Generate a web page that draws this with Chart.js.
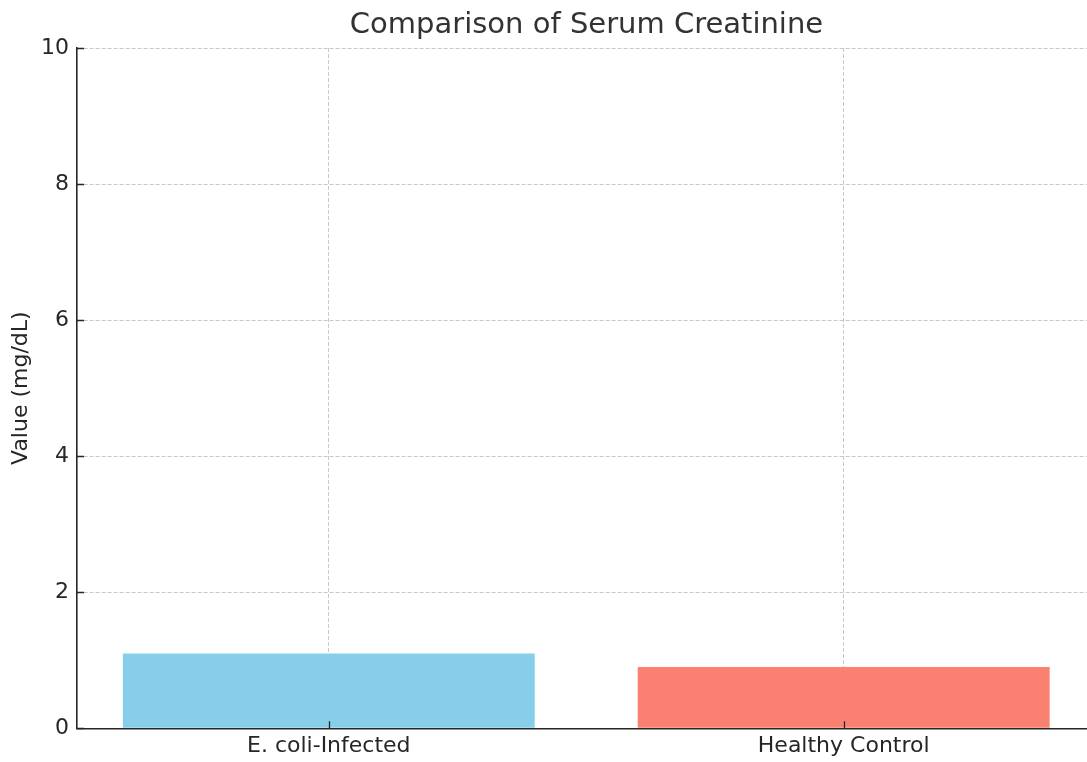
<!DOCTYPE html>
<html>
<head>
<meta charset="utf-8">
<script src="https://cdn.jsdelivr.net/npm/chart.js@4/dist/chart.umd.min.js"></script>
<style>
html,body{margin:0;padding:0;overflow:hidden;background:#fff;width:1087px;height:762px;}
canvas{display:block;}
</style>
</head>
<body>
<canvas id="c" width="1097" height="762"></canvas>
<script>
const categories = ["E. coli-Infected", "Healthy Control"];
const values = [1.1, 0.9];
const barColors = ["#87CEEB", "#FA8072"];
const yTicks = [0, 2, 4, 6, 8, 10];
const chartTitle = "Comparison of Serum Creatinine";
const yTitle = "Value (mg/dL)";

const FONT = "'DejaVu Sans', sans-serif";
const INK = "#262626";
const GRID = 'rgba(176,176,176,0.7)';

const inwardTicks = {
  id: 'inwardTicks',
  afterDraw(chart) {
    const {ctx, chartArea, scales} = chart;
    ctx.save();
    ctx.strokeStyle = INK;
    ctx.lineWidth = 1.3;
    ctx.beginPath();
    scales.y.ticks.forEach(t => {
      const y = Math.round(scales.y.getPixelForValue(t.value)) + 0.5;
      ctx.moveTo(chartArea.left, y);
      ctx.lineTo(chartArea.left + 7, y);
    });
    scales.x.ticks.forEach(t => {
      const x = Math.round(scales.x.getPixelForValue(t.value)) + 0.5;
      ctx.moveTo(x, chartArea.bottom);
      ctx.lineTo(x, chartArea.bottom - 7);
    });
    ctx.stroke();
    ctx.fillStyle = "#333333";
    ctx.font = "29px " + FONT;
    ctx.textAlign = "center";
    ctx.textBaseline = "middle";
    ctx.fillText(chartTitle, (chartArea.left + chartArea.right) / 2, 25);
    ctx.restore();
  }
};

new Chart(document.getElementById('c'), {
  type: 'bar',
  data: {
    datasets: [{
      data: categories.map((c, i) => ({x: i, y: values[i]})),
      backgroundColor: barColors,
      borderWidth: 0,
      categoryPercentage: 1.0,
      barPercentage: 0.8
    }]
  },
  options: {
    responsive: false,
    animation: false,
    layout: {padding: {top: 48, right: 1, left: 0, bottom: 0}},
    plugins: {legend: {display: false}, tooltip: {enabled: false}, title: {display: false}},
    scales: {
      x: {
        type: 'linear',
        min: -0.489,
        max: 1.49,
        offset: false,
        z: 1,
        afterBuildTicks(scale) { scale.ticks = categories.map((c, i) => ({value: i})); },
        afterFit(scale) { scale.height = 33.7; },
        ticks: {
          callback: (v) => categories[v] ?? '',
          font: {family: FONT, size: 22},
          color: INK,
          padding: 5,
          maxRotation: 0,
          autoSkip: false
        },
        grid: {color: GRID, lineWidth: 1, drawTicks: false, tickLength: 0, offset: false},
        border: {display: true, color: INK, width: 1.6, dash: [4, 2]},
      },
      y: {
        min: 0,
        max: 10,
        z: 1,
        afterBuildTicks(scale) { scale.ticks = yTicks.map(v => ({value: v})); },
        afterFit(scale) { scale.width = 77; },
        ticks: {
          font: {family: FONT, size: 22},
          color: INK,
          padding: 8
        },
        grid: {color: GRID, lineWidth: 1, drawTicks: false, tickLength: 0},
        border: {display: true, color: INK, width: 1.6, dash: [4, 2]},
        title: {
          display: true,
          text: yTitle,
          font: {family: FONT, size: 22},
          color: INK,
          padding: {top: 8, bottom: 0}
        }
      }
    }
  },
  plugins: [inwardTicks]
});
</script>
</body>
</html>
